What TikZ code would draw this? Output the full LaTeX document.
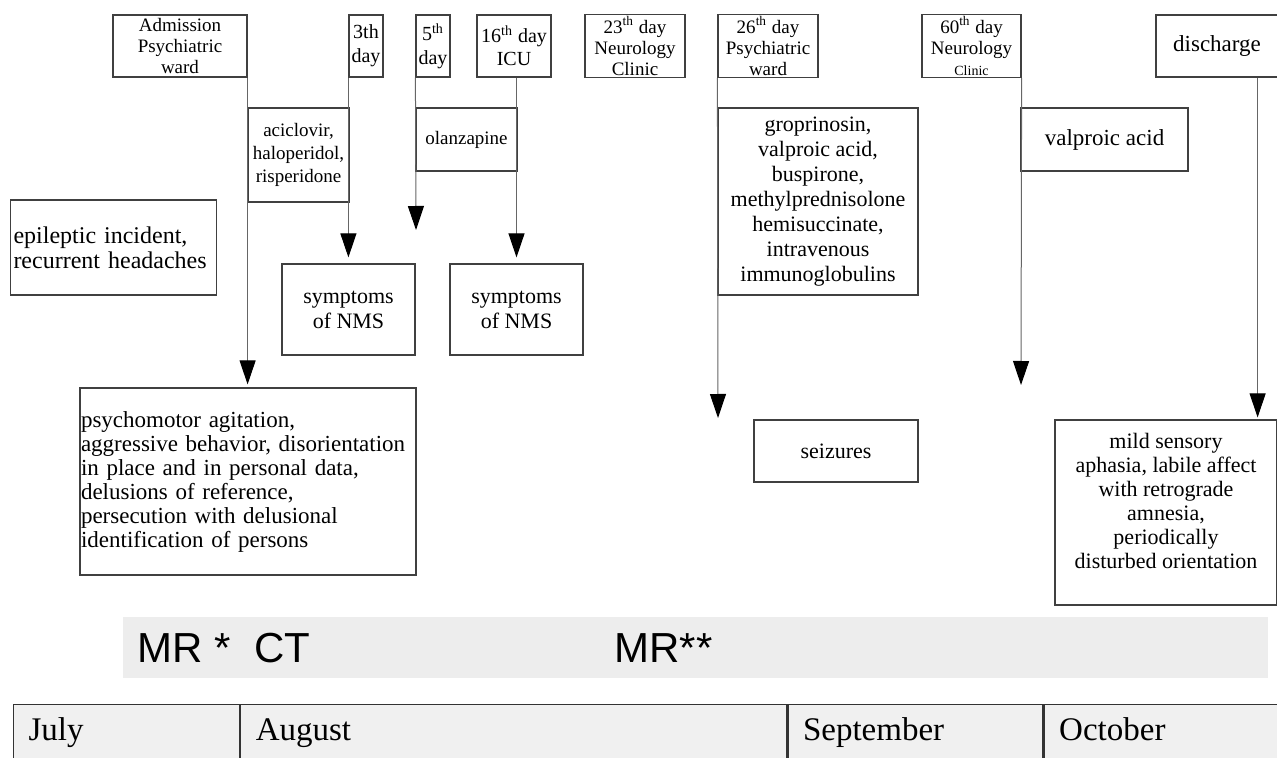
\documentclass[tikz,border=0pt]{standalone}
\usepackage{fontspec}
\setmainfont{Liberation Serif}
\newfontfamily\bandfont{Liberation Sans}
\usetikzlibrary{arrows.meta,positioning}
\tikzset{
  wh/.style 2 args={minimum width=#1*0.5pt, minimum height=#2*0.5pt},
  box/.style={draw=black!75, line width=0.6pt, align=center, inner sep=1pt, font=\fontsize{11}{12.5}\selectfont},
  daybox/.style={box, font=\fontsize{9.5}{10.5}\selectfont},
  drugbox/.style={box, font=\fontsize{9.5}{11.5}\selectfont},
  textbox/.style={box, align=left, inner xsep=1.5pt, font=\fontsize{11.5}{12}\selectfont},
  month/.style={draw=black!80, line width=0.6pt, fill=black!6, anchor=north west, align=left, inner xsep=7.5pt,
    inner ysep=0pt, text height=12pt, text depth=4pt, minimum height=28pt, text width=#1*0.5pt-15pt,
    font=\fontsize{16.5}{18}\selectfont},
  arrow/.style={-{Triangle[length=12pt,width=8pt,color=black]}, line width=0.5pt, draw=black!60},
  bandtext/.style={anchor=west, inner sep=0pt, font=\bandfont\fontsize{21}{24}\selectfont}
}
\begin{document}
\begin{tikzpicture}[x=0.5pt, y=-0.5pt]
\useasboundingbox (0,0) rectangle (1277,758);
\node[daybox, wh={134}{62}] (adm) at (180,46) {Admission\\Psychiatric\\ward};
\node[box, wh={34}{62}, font=\fontsize{10}{12}\selectfont, inner sep=0pt] (d3) at (366,46) {3th\\day};
\node[box, wh={34}{62}, font=\fontsize{10}{12}\selectfont, inner sep=0pt] (d5) at (433,46) {5\textsuperscript{th}\\day};
\node[box, wh={74}{62}, font=\fontsize{10}{11.5}\selectfont] (d16) at (514,46) {16\textsuperscript{th} day\\ICU};
\node[daybox, wh={100}{62}] (d23) at (635,46) {23\textsuperscript{th} day\\Neurology\\Clinic};
\node[daybox, wh={100}{62}] (d26) at (768,46) {26\textsuperscript{th} day\\Psychiatric\\ward};
\node[daybox, wh={99}{62}] (d60) at (971.5,46) {60\textsuperscript{th} day\\Neurology\\{\fontsize{7}{8}\selectfont Clinic}};
\node[box, wh={122}{62}, font=\fontsize{11.5}{13}\selectfont] (dis) at (1217,46) {discharge};

\node[drugbox, wh={101}{94}] (acic) at (298.5,155) {aciclovir,\\haloperidol,\\risperidone};
\node[drugbox, wh={101}{63}] (olan) at (466.5,139.5) {olanzapine};
\node[box, wh={200}{187}] (grop) at (818,201.5) {groprinosin,\\valproic acid,\\buspirone,\\methylprednisolone\\hemisuccinate,\\intravenous\\immunoglobulins};
\node[box, wh={167}{63}, font=\fontsize{11.5}{13}\selectfont] (valp) at (1104.5,139.5) {valproic acid};

\node[textbox, wh={203}{95}, text width=100pt, font=\fontsize{12}{12.5}\selectfont] (epi) at (113.5,247.5) {epileptic incident,\\recurrent headaches};
\node[box, wh={133}{91}] (nms1) at (348.5,309.5) {symptoms\\of NMS};
\node[box, wh={133}{91}] (nms2) at (516.5,309.5) {symptoms\\of NMS};
\node[textbox, wh={336}{187}, text width=167pt, inner xsep=0pt] (psy) at (248,481.5) {psychomotor agitation,\\aggressive behavior, disorientation\\in place and in personal data,\\delusions of reference,\\persecution with delusional\\identification of persons};
\node[box, wh={164}{62}] (seiz) at (836,451) {seizures};
\node[box, wh={222}{185}, font=\fontsize{11}{12}\selectfont] (mild) at (1166,512.5) {mild sensory\\aphasia, labile affect\\with retrograde\\amnesia,\\periodically\\disturbed orientation\\\mbox{}};

\coordinate (d5end) at (416,230);
\coordinate (d26end) at (718,418);
\coordinate (d60end) at (1021,385);
\coordinate (distop) at ([xshift=-10.5pt]dis.south east);
\draw[arrow, shorten >=1.5pt] (adm.south east) -- (adm.south east |- psy.north);
\draw[arrow, shorten >=3pt] (d3.south west) -- (d3.south west |- nms1.north);
\draw[arrow] (d5.south west) -- (d5end);
\draw[arrow, shorten >=3pt] (nms2.north |- d16.south) -- (nms2.north);
\draw[arrow] (d26.south west) -- (d26end);
\draw[arrow] (d60.south east) -- (d60end);
\draw[arrow, shorten >=1pt] (distop) -- (distop |- mild.north);

\node[fill=black!7, wh={1145}{61}, inner sep=0pt] (band) at (695.5,647.5) {};
\node[bandtext] (mrct) at (137,648) {MR *~ CT};
\node[bandtext] (mr2) at (614,648) {MR**};

\node[month=226] (jul) at (13,704) {July};
\node[month=546, right=0pt of jul] (aug) {August};
\node[month=255, right=0pt of aug] (sep) {September};
\node[month=250, right=0pt of sep] (oct) {October};
\end{tikzpicture}
\end{document}
